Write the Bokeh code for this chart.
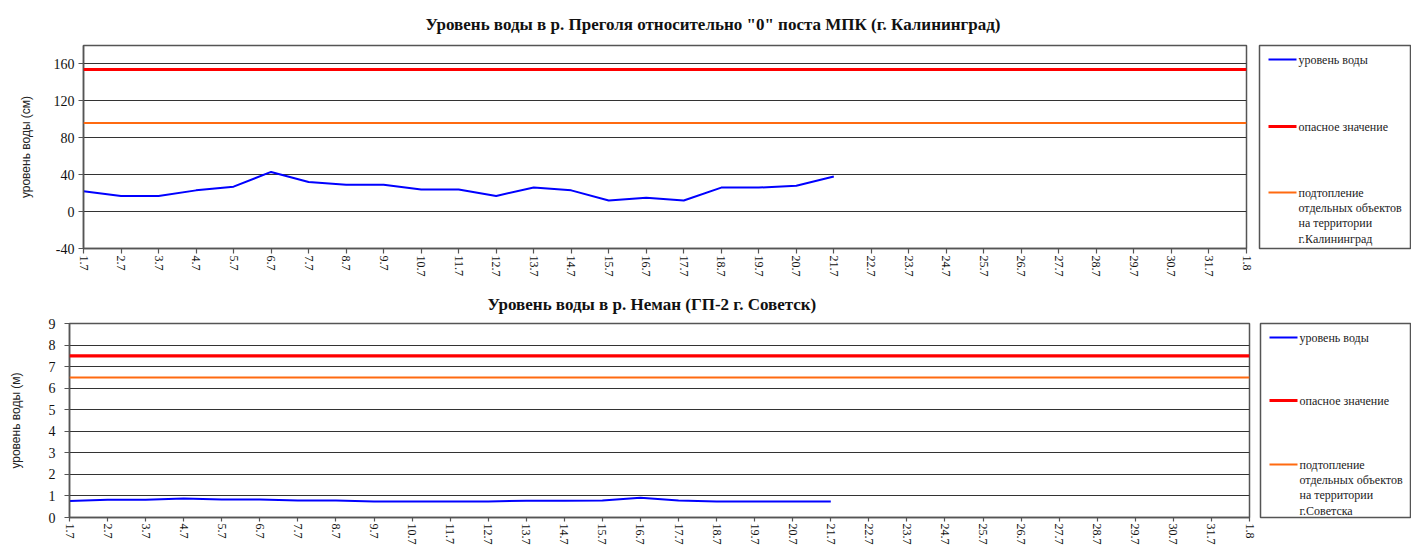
from bokeh.plotting import figure
from bokeh.layouts import column, row
from bokeh.models import Range1d, FixedTicker, Span, Title
from bokeh.core.properties import value
from bokeh.embed import file_html
from bokeh.resources import INLINE

# ---------------- data ----------------
dates = ["1.7", "2.7", "3.7", "4.7", "5.7", "6.7", "7.7", "8.7", "9.7", "10.7",
         "11.7", "12.7", "13.7", "14.7", "15.7", "16.7", "17.7", "18.7", "19.7", "20.7",
         "21.7", "22.7", "23.7", "24.7", "25.7", "26.7", "27.7", "28.7", "29.7", "30.7",
         "31.7", "1.8"]

pregolya_level = [22, 17, 17, 23, 27, 43, 32, 29, 29, 24,
                  24, 17, 26, 23, 12, 15, 12, 26, 26, 28, 38]   # cm
pregolya_danger = 154
pregolya_flood = 96
pregolya_yticks = [-40, 0, 40, 80, 120, 160]

neman_level = [0.77, 0.82, 0.82, 0.88, 0.83, 0.83, 0.79, 0.79, 0.74, 0.74,
               0.74, 0.74, 0.78, 0.78, 0.79, 0.92, 0.79, 0.74, 0.74, 0.74, 0.74]  # m
neman_danger = 7.5
neman_flood = 6.5
neman_yticks = [0, 1, 2, 3, 4, 5, 6, 7, 8, 9]

title_top = 'Уровень воды в р. Преголя относительно "0" поста МПК (г. Калининград)'
title_bottom = "Уровень воды в р. Неман (ГП-2 г. Советск)"
ylabel_top = "уровень воды (см)"
ylabel_bottom = "уровень воды (м)"
legend_top = ["уровень воды", "опасное значение",
              "подтопление\nотдельных объектов\nна территории\nг.Калининград"]
legend_bottom = ["уровень воды", "опасное значение",
                 "подтопление\nотдельных объектов\nна территории\nг.Советска"]

SERIF = "Liberation Serif"
SANS = "Liberation Sans"
BLUE = "#0000FF"
RED = "#FF0000"
ORANGE = "#FF6A10"
GRID = "#333333"
FRAME = "#555555"


def make_chart(width, height, mb, yr, yticks, levels, danger, flood,
               title, title_offset, title_standoff, title_valign,
               ylabel, ystandoff, ylab_standoff):
    p = figure(width=width, height=height, output_backend="svg", toolbar_location=None,
               x_range=Range1d(0, len(dates) - 1), y_range=Range1d(*yr),
               min_border_left=mb[0], min_border_right=mb[1],
               min_border_top=mb[2], min_border_bottom=mb[3])
    p.background_fill_color = "white"
    p.outline_line_color = FRAME
    p.outline_line_width = 1.5
    xs = list(range(len(dates)))
    p.xaxis.ticker = FixedTicker(ticks=xs)
    p.xaxis.major_label_overrides = {i: d for i, d in enumerate(dates)}
    p.xaxis.major_label_orientation = "vertical"
    p.yaxis.ticker = FixedTicker(ticks=yticks)
    p.yaxis.major_label_overrides = {t: str(t) for t in yticks}
    for ax in (p.xaxis[0], p.yaxis[0]):
        ax.axis_line_color = FRAME
        ax.axis_line_width = 1.5
        ax.major_tick_line_color = FRAME
        ax.major_tick_line_width = 1.2
        ax.major_tick_out = 5
        ax.major_tick_in = 0
        ax.minor_tick_line_color = None
        ax.major_label_text_font = SERIF
        ax.major_label_text_color = "#111111"
    p.xaxis.major_label_text_font_size = "12px"
    p.xaxis.major_label_standoff = 2
    p.yaxis.major_label_text_font_size = "14px"
    p.yaxis.major_label_standoff = ystandoff
    p.yaxis.axis_label = ylabel
    p.yaxis.axis_label_text_font = SANS
    p.yaxis.axis_label_text_font_style = "normal"
    p.yaxis.axis_label_text_font_size = "12px"
    p.yaxis.axis_label_text_color = "#222222"
    p.yaxis.axis_label_standoff = ylab_standoff
    p.xgrid.grid_line_color = None
    p.ygrid.ticker = FixedTicker(ticks=yticks)
    p.ygrid.grid_line_color = GRID
    p.ygrid.grid_line_width = 1.2

    p.add_layout(Span(location=danger, dimension="width", line_color=RED, line_width=3.2))
    p.add_layout(Span(location=flood, dimension="width", line_color=ORANGE, line_width=2))
    p.line(xs[:len(levels)], levels, line_color=BLUE, line_width=2)

    p.add_layout(Title(text=title, align="left", offset=title_offset, standoff=title_standoff,
                       vertical_align=title_valign,
                       text_font=SERIF, text_font_style="bold", text_font_size="17px",
                       text_color="#111111"), "above")
    return p


def make_legend(width, height, mb, labels, ys):
    fw = width - mb[0] - mb[1]
    fh = height - mb[2] - mb[3]
    l = figure(width=width, height=height, output_backend="svg", toolbar_location=None,
               x_range=Range1d(0, fw), y_range=Range1d(fh, 0),
               x_axis_type=None, y_axis_type=None,
               min_border_left=mb[0], min_border_right=mb[1],
               min_border_top=mb[2], min_border_bottom=mb[3])
    l.grid.visible = False
    l.outline_line_color = FRAME
    l.outline_line_width = 1.5
    colors = [BLUE, RED, ORANGE]
    widths = [2, 3.2, 2]
    for lab, yy, c, w in zip(labels, ys, colors, widths):
        l.line([9, 37], [yy, yy], line_color=c, line_width=w)
        l.text([39], [yy - 7], text=[lab], text_font=value(SERIF), text_font_size="12px",
               text_baseline="top", text_align="left", text_color="#222222",
               text_line_height=1.1)
    return l


p1 = make_chart(1256, 280, (83, 10, 43, 32), (-40, 180), pregolya_yticks,
                pregolya_level, pregolya_danger, pregolya_flood,
                title_top, 342, 20, "top", ylabel_top, 4, 18)
l1 = make_legend(155, 280, (3, 1, 45, 32), legend_top, [14, 81, 147])

p2 = make_chart(1257, 271, (69, 8, 43, 29), (0, 9), neman_yticks,
                neman_level, neman_danger, neman_flood,
                title_bottom, 418, 18, "middle", ylabel_bottom, 9, 23)
p2.xaxis.major_tick_out = 4
l2 = make_legend(154, 271, (3, 1, 43, 34), legend_bottom, [14, 77, 141])

layout = column(row(p1, l1, spacing=0), row(p2, l2, spacing=0), spacing=0)

open("out.html", "w").write(file_html(layout, INLINE))
